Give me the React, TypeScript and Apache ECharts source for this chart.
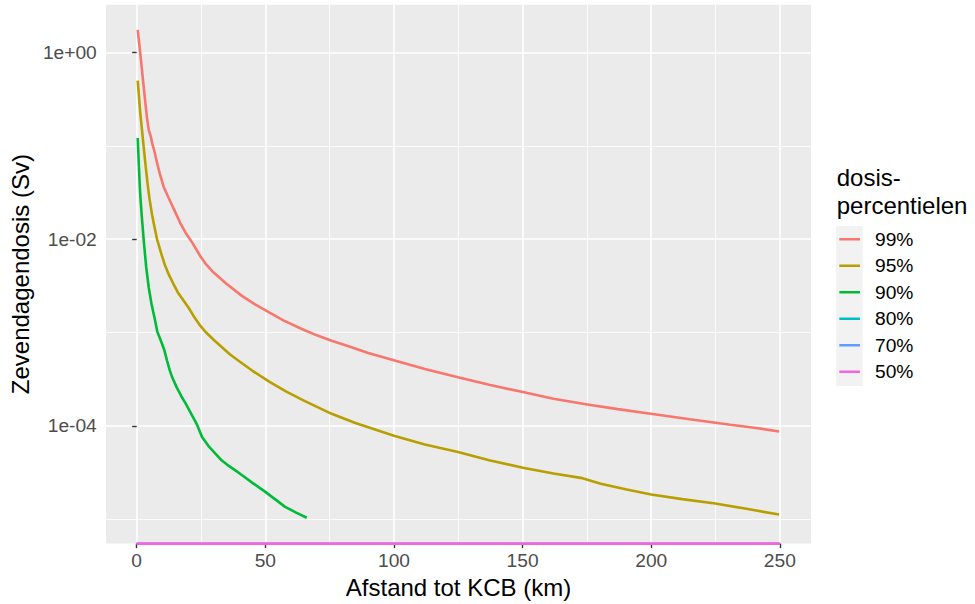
import React, { useEffect, useRef } from 'react';
import * as echarts from 'echarts';

const seriesNames = ['99%', '95%', '90%', '80%', '70%', '50%'];
const seriesColors = ['#F8766D', '#B79F00', '#00BA38', '#00BFC4', '#619CFF', '#F564E3'];

const distance99 = [0.4, 1.4, 2.7, 4.0, 4.7, 5.5, 6.0, 7.0, 7.9, 9.0, 10.5, 12.4, 14.5, 16.9, 19.0, 21.6, 24.7, 27.0, 30.0, 35.0, 40.9, 46.0, 51.5, 57.0, 64.2, 70.0, 75.8, 83.5, 90.0, 100.3, 112.0, 124.9, 137.0, 150.1, 162.0, 175.2, 187.0, 199.8, 215.0, 230.8, 240.0, 249.7];
const dose99 = [1.75, 0.984, 0.434, 0.2, 0.148, 0.126, 0.1076, 0.0851, 0.0661, 0.0501, 0.0363, 0.0278, 0.0209, 0.015, 0.01175, 0.0092, 0.00661, 0.00537, 0.00437, 0.00331, 0.00247, 0.002, 0.00164, 0.00135, 0.00109, 0.000933, 0.000817, 0.000695, 0.000603, 0.000501, 0.000407, 0.000332, 0.000275, 0.00023, 0.000195, 0.000169, 0.000151, 0.0001346, 0.0001175, 0.0001028, 9.55e-5, 8.71e-5];

const distance95 = [0.4, 1.4, 2.7, 3.5, 4.3, 5.0, 6.0, 7.0, 7.9, 9.5, 11.0, 12.5, 14.3, 16.0, 18.0, 20.3, 22.5, 24.7, 27.0, 30.0, 33.9, 36.3, 40.0, 45.0, 51.8, 58.0, 65.0, 75.8, 85.0, 100.3, 112.0, 124.9, 137.0, 150.1, 162.0, 172.6, 180.4, 190.0, 200.0, 212.0, 224.9, 237.0, 249.7];
const dose95 = [0.502, 0.225, 0.0991, 0.0603, 0.038, 0.0269, 0.0182, 0.0132, 0.01, 0.00708, 0.00525, 0.00417, 0.00331, 0.00269, 0.00224, 0.00182, 0.001445, 0.001183, 0.001, 0.000832, 0.000667, 0.000582, 0.00049, 0.000389, 0.000294, 0.000234, 0.000186, 0.0001346, 0.0001072, 7.78e-5, 6.31e-5, 5.25e-5, 4.27e-5, 3.56e-5, 3.09e-5, 2.77e-5, 2.4e-5, 2.09e-5, 1.84e-5, 1.64e-5, 1.47e-5, 1.29e-5, 1.12e-5];

const distance90 = [0.4, 0.8, 1.2, 1.5, 2.0, 2.8, 3.7, 4.7, 5.8, 7.0, 8.0, 9.3, 10.6, 11.8, 12.8, 13.8, 15.6, 17.3, 19.0, 21.0, 23.5, 25.4, 28.0, 30.6, 33.0, 35.8, 38.5, 41.0, 45.0, 50.0, 54.0, 57.7, 62.0, 66.1];
const dose90 = [0.1216, 0.0661, 0.0372, 0.0267, 0.01738, 0.00933, 0.00501, 0.00302, 0.002, 0.001413, 0.001023, 0.000832, 0.000667, 0.000501, 0.000398, 0.000331, 0.000257, 0.000209, 0.0001738, 0.000138, 0.0001023, 7.59e-5, 6.03e-5, 5.04e-5, 4.27e-5, 3.72e-5, 3.31e-5, 2.95e-5, 2.45e-5, 1.96e-5, 1.62e-5, 1.355e-5, 1.175e-5, 1.035e-5];

// 80%, 70% and 50% percentiles are zero everywhere (drawn at the bottom edge of the log panel)
const distanceZero = [0, 250];
const dose80 = [0, 0];
const dose70 = [0, 0];
const dose50 = [0, 0];

const xTicks = [0, 50, 100, 150, 200, 250];
const xMinorTicks = [25, 75, 125, 175, 225];
const yTicks = [1, 1e-2, 1e-4];
const yMinorTicks = [1e-1, 1e-3, 1e-5];

const X_MIN = -11.93;
const X_MAX = 262.1;
const Y_MIN = Math.pow(10, -5.262);
const Y_MAX = Math.pow(10, 0.5134);

const FONT = '"Liberation Sans", Arial, Helvetica, sans-serif';

function fmtExp(v: number): string {
  const e = Math.round(Math.log10(v));
  const s = e < 0 ? '-' : '+';
  return '1e' + s + String(Math.abs(e)).padStart(2, '0');
}

export default function App() {
  const ref = useRef<HTMLDivElement>(null);
  useEffect(() => {
    if (!ref.current) return;
    const chart = echarts.init(ref.current, undefined, { renderer: 'svg' });
    const allX = [distance99, distance95, distance90, distanceZero, distanceZero, distanceZero];
    const allY = [dose99, dose95, dose90, dose80, dose70, dose50];
    const series = seriesNames.map((name, i) => ({
      name,
      type: 'line',
      xAxisIndex: 0,
      yAxisIndex: 0,
      data: allX[i].map((x, j) => [x, allY[i][j] > 0 ? allY[i][j] : Y_MIN]),
      showSymbol: false,
      symbol: 'none',
      clip: i < 3,
      lineStyle: { color: seriesColors[i], width: i === 3 || i === 4 ? 1.8 : 2.6 },
      itemStyle: { color: seriesColors[i] },
      emphasis: { disabled: true },
      z: 3,
    }));
    const option: any = {
      animation: false,
      textStyle: { fontFamily: FONT },
      grid: [{ left: 103.5, top: 4.7, right: 164, bottom: 59.3, show: true, backgroundColor: '#EBEBEB', borderWidth: 0 }],
      xAxis: [
        {
          type: 'value',
          min: X_MIN,
          max: X_MAX,
          name: 'Afstand tot KCB (km)',
          nameLocation: 'middle',
          nameGap: 27.7,
          nameTextStyle: { fontSize: 24, color: '#000', fontFamily: FONT },
          axisLine: { show: false },
          axisTick: { show: true, customValues: xTicks, length: 4.5, lineStyle: { color: '#333333', width: 1.4 } },
          axisLabel: { customValues: xTicks, fontSize: 19.2, color: '#4D4D4D', margin: 7.5, fontFamily: FONT, showMinLabel: true, showMaxLabel: true },
          splitLine: { show: true, lineStyle: { color: '#FFFFFF', width: 1.6 } },
        },
        {
          type: 'value',
          min: X_MIN,
          max: X_MAX,
          axisLine: { show: false },
          axisTick: { show: false, customValues: xMinorTicks },
          axisLabel: { show: false, customValues: xMinorTicks },
          splitLine: { show: true, lineStyle: { color: '#FFFFFF', width: 0.8 } },
        },
      ],
      yAxis: [
        {
          type: 'log',
          logBase: 10,
          min: Y_MIN,
          max: Y_MAX,
          name: 'Zevendagendosis (Sv)',
          nameLocation: 'middle',
          nameGap: 68.3,
          nameTextStyle: { fontSize: 24, color: '#000', fontFamily: FONT },
          axisLine: { show: false },
          axisTick: { show: true, customValues: yTicks, length: 4.5, lineStyle: { color: '#333333', width: 1.4 } },
          axisLabel: { customValues: yTicks, fontSize: 19.2, color: '#4D4D4D', margin: 9.2, fontFamily: FONT, formatter: (v: number) => fmtExp(v) },
          splitLine: { show: true, lineStyle: { color: '#FFFFFF', width: 1.6 } },
        },
        {
          type: 'log',
          logBase: 10,
          min: Y_MIN,
          max: Y_MAX,
          position: 'left',
          axisLine: { show: false },
          axisTick: { show: false, customValues: yMinorTicks },
          axisLabel: { show: false, customValues: yMinorTicks },
          splitLine: { show: true, lineStyle: { color: '#FFFFFF', width: 0.8 } },
        },
      ],
      legend: {
        orient: 'vertical',
        left: 839.3,
        top: 226,
        padding: 0,
        itemGap: 0,
        icon: 'rect',
        itemWidth: 20.7,
        itemHeight: 2.5,
        selectedMode: false,
        data: seriesNames,
        textStyle: { fontSize: 19.2, color: '#000', lineHeight: 26.5, fontFamily: FONT, padding: [0, 0, 0, 10] },
      },
      graphic: [
        { type: 'rect', z: 0, shape: { x: 836, y: 226, width: 26.7, height: 160 }, style: { fill: '#F2F2F2' } },
        {
          type: 'text',
          left: 836.7,
          top: 163,
          style: { text: 'dosis-\npercentielen', fontSize: 24, lineHeight: 28.3, fill: '#000', fontFamily: FONT },
        },
      ],
      series,
    };
    chart.setOption(option);
    return () => chart.dispose();
  }, []);
  return <div ref={ref} style={{ position: 'absolute', left: 0, top: 0, width: 975, height: 604, background: '#fff' }} />;
}
